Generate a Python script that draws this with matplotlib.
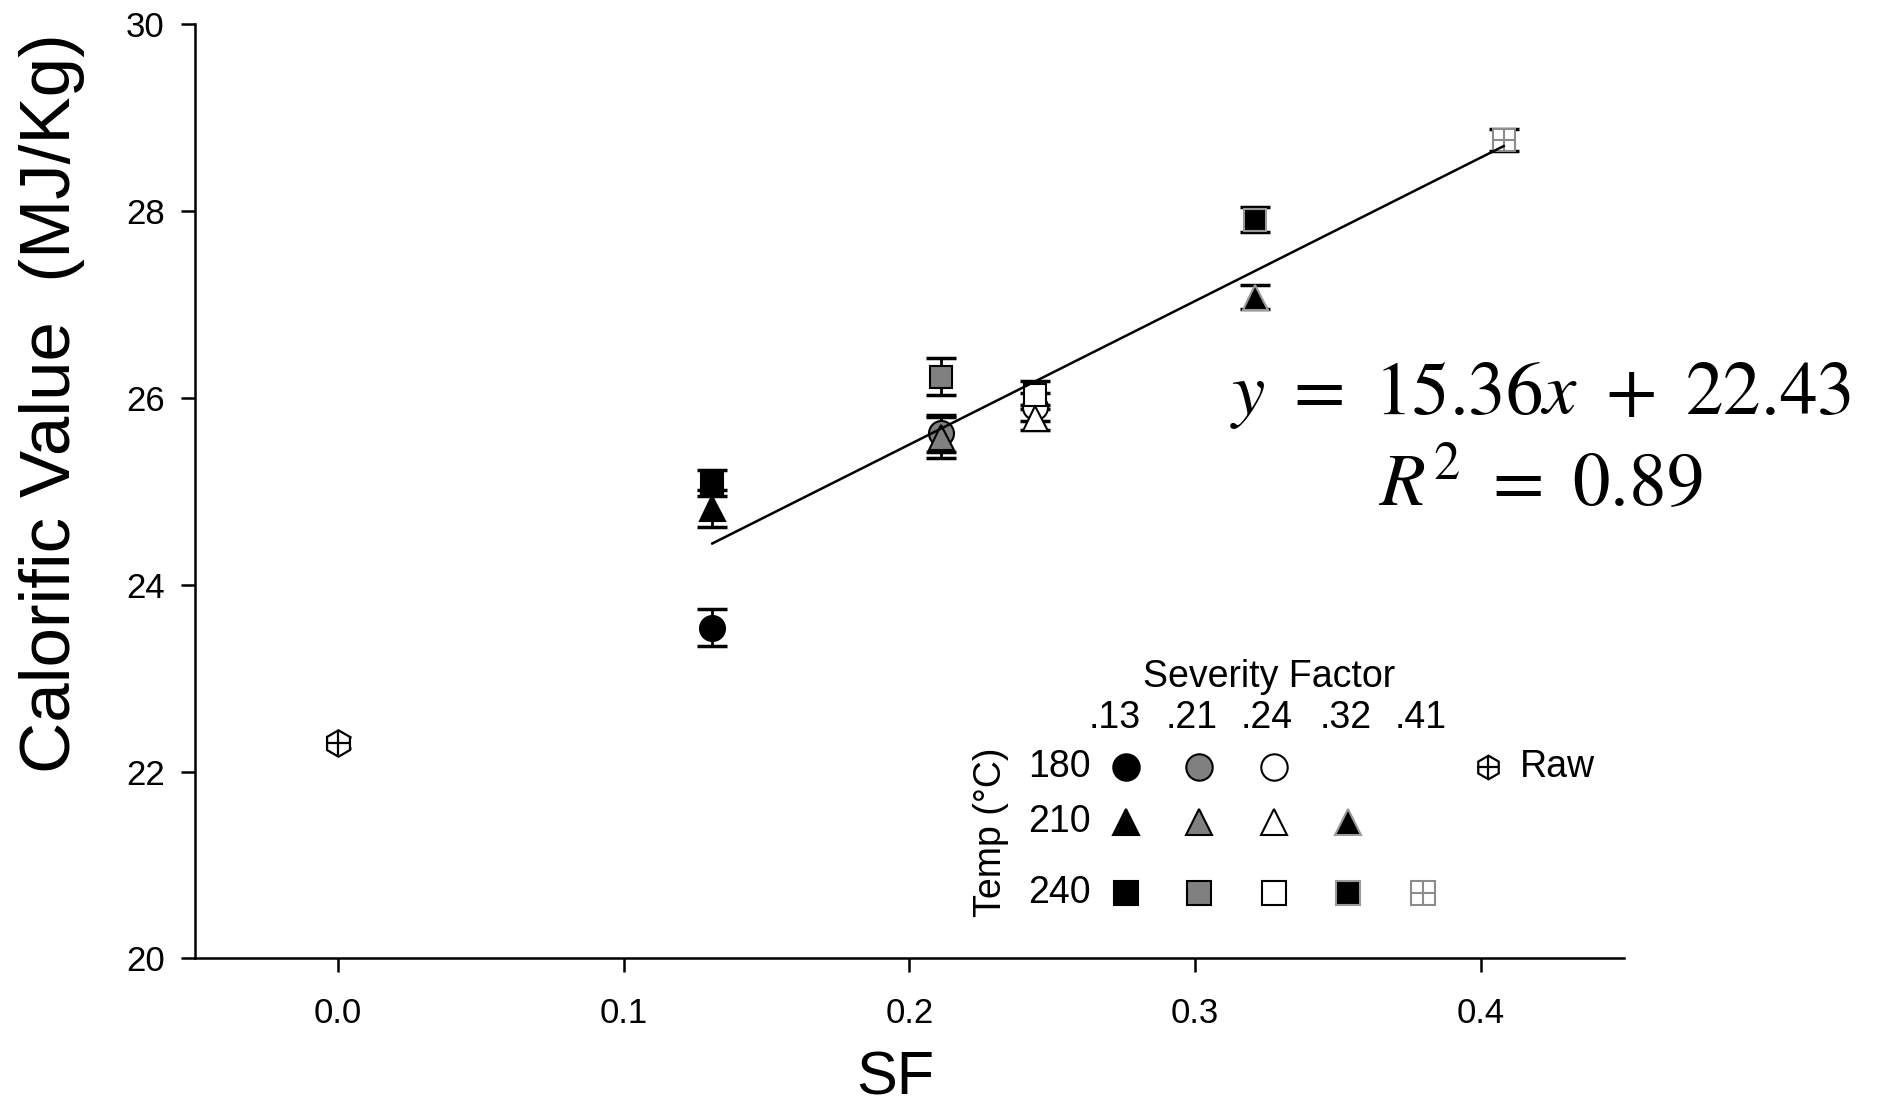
import matplotlib
matplotlib.use('Agg')
import matplotlib.pyplot as plt
import numpy as np

# severity factor of each column, temperature rows
sf = [0.131, 0.211, 0.244, 0.321, 0.408]
sf_labels = ['.13', '.21', '.24', '.32', '.41']
temps = ['180', '210', '240']

cv_180 = [23.54, 25.62, 25.90]
err_180 = [0.20, 0.20, 0.15]
cv_210 = [24.82, 25.58, 25.79, 27.08]
err_210 = [0.20, 0.22, 0.13, 0.13]
cv_240 = [25.09, 26.23, 26.03, 27.91, 28.76]
err_240 = [0.14, 0.20, 0.15, 0.13, 0.12]

raw_sf = 0.0
raw_cv = 22.31
raw_err = 0.06

slope = 15.36
intercept = 22.43
r2 = 0.89

plt.rcParams['font.family'] = ['Liberation Sans', 'DejaVu Sans']
plt.rcParams['mathtext.fontset'] = 'stix'

face = ['black', '#808080', 'white', 'black', 'white']
edge = ['black', 'black', 'black', '#9a9a9a', '#8c8c8c']
shapes = ['o', '^', 's']
msize = [19, 19, 17]


def draw_point(ax, x, y, col, shape, ms, transform=None):
    kw = {} if transform is None else {'transform': transform}
    ax.plot(x, y, marker=shape, ms=ms, mfc=face[col], mec=edge[col],
            mew=1.5, ls='none', zorder=4, clip_on=False, **kw)
    if col == 4:
        ax.plot(x, y, marker='+', ms=ms * 0.95, mec=edge[col], mew=1.5,
                ls='none', zorder=5, clip_on=False, **kw)


def draw_raw(ax, x, y, ms, transform=None):
    kw = {} if transform is None else {'transform': transform}
    ax.plot(x, y, marker='h', ms=ms, mfc='white', mec='black', mew=1.6,
            ls='none', zorder=4, clip_on=False, **kw)
    ax.plot(x, y, marker='+', ms=ms * 0.9, mec='black', mew=1.6,
            ls='none', zorder=5, clip_on=False, **kw)


fig = plt.figure(figsize=(18.77, 11.08), dpi=100)
ax = fig.add_axes([0.104, 0.135, 0.761, 0.843])

rows = [(cv_180, err_180), (cv_210, err_210), (cv_240, err_240)]
for r, (vals, errs) in enumerate(rows):
    for c, (v, e) in enumerate(zip(vals, errs)):
        ax.errorbar(sf[c], v, yerr=e, fmt='none', ecolor='black',
                    elinewidth=2, capsize=11, capthick=2.5, zorder=3)
        draw_point(ax, sf[c], v, c, shapes[r], msize[r] - 1)

ax.errorbar(raw_sf, raw_cv, yerr=raw_err, fmt='none', ecolor='black',
            elinewidth=2, capsize=9, capthick=2, zorder=3)
draw_raw(ax, raw_sf, raw_cv, 19)

# regression line
xfit = np.array([sf[0], sf[-1]])
ax.plot(xfit, slope * xfit + intercept, color='black', lw=1.8, zorder=6)

ax.set_xlim(-0.05, 0.45)
ax.set_ylim(20, 30)
ax.set_xticks([0.0, 0.1, 0.2, 0.3, 0.4])
ax.set_xticklabels(['0.0', '0.1', '0.2', '0.3', '0.4'])
ax.set_yticks([20, 22, 24, 26, 28, 30])
ax.spines['top'].set_visible(False)
ax.spines['right'].set_visible(False)
for s in ['left', 'bottom']:
    ax.spines[s].set_linewidth(1.8)
ax.tick_params(direction='out', length=10, width=1.8, labelsize=25)
ax.tick_params(axis='y', pad=12)
ax.tick_params(axis='x', pad=18)

ax.set_ylabel('Calorific Value  (MJ/Kg)', fontsize=51)
ax.yaxis.set_label_coords(-0.077, 0.595)
ax.set_xlabel('SF', fontsize=44)
ax.xaxis.set_label_coords(0.49, -0.099)

# equation
fig.text(0.821, 0.643, r'$y\ =\ 15.36x\ +\ 22.43$', fontsize=54, ha='center', va='center')
fig.text(0.821, 0.562, r'$R^2\ =\ {:.2f}$'.format(r2), fontsize=54, ha='center', va='center')

# custom legend
tf = fig.transFigure
fig.text(0.676, 0.389, 'Severity Factor', fontsize=27, ha='center', va='center')
hdr_x = [0.594, 0.635, 0.675, 0.717, 0.757]
for hx, lab in zip(hdr_x, sf_labels):
    fig.text(hx, 0.352, lab, fontsize=27, ha='center', va='center')
col_x = [0.600, 0.639, 0.679, 0.718, 0.758]
row_y = [0.308, 0.258, 0.194]
row_cols = [3, 4, 5]
for r in range(3):
    fig.text(0.581, row_y[r], temps[r], fontsize=27, ha='right', va='center')
    for c in range(row_cols[r]):
        draw_point(ax, col_x[c], row_y[r], c, shapes[r], msize[r], transform=tf)
fig.text(0.528, 0.249, 'Temp (°C)', fontsize=27, rotation=90, ha='center', va='center')
draw_raw(ax, 0.793, 0.308, 17, transform=tf)
fig.text(0.810, 0.308, 'Raw', fontsize=27, ha='left', va='center')

fig.savefig('out.png', dpi=100)
plt.close(fig)
